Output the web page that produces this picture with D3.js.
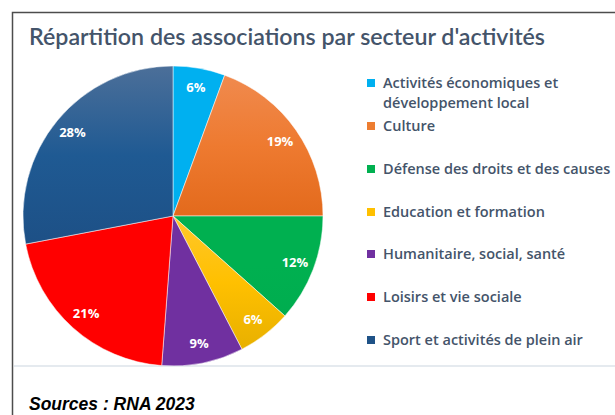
<!DOCTYPE html>
<html><head><meta charset="utf-8">
<script src="https://cdn.jsdelivr.net/npm/d3@7"></script>
<style>body{margin:0;background:#fff}svg{display:block}</style>
</head><body>
<svg id="c" width="615" height="415"></svg>
<script>
const categories = ["Activités économiques et développement local","Culture","Défense des droits et des causes","Education et formation","Humanitaire, social, santé","Loisirs et vie sociale","Sport et activités de plein air"];
const legendLines = [["Activités économiques et","développement local"],["Culture"],["Défense des droits et des causes"],["Education et formation"],["Humanitaire, social, santé"],["Loisirs et vie sociale"],["Sport et activités de plein air"]];
const values = [5.6, 19.4, 11.6, 5.8, 8.8, 20.8, 28.0];
const labels = ["6%","19%","12%","6%","9%","21%","28%"];
const colorsTop = ["#00b0f0","#f08a4e","#00b050","#ffc72c","#7030a0","#ff0000","#4c6f99"];
const colorsMid = ["#00b0f0","#ee7a30","#00b050","#ffc000","#7030a0","#ff0000","#1f5a93"];
const colorsBot = ["#00b0f0","#e36a1c","#00ad4f","#e8b000","#7030a0","#ff0000","#1d5086"];
const legendColors = ["#00b0f0","#ed7d31","#00b050","#ffc000","#7030a0","#ff0000","#1f5287"];

const svg = d3.select("#c");
const cx = 173, cy = 216, R = 150;

// frame
svg.append("rect").attr("x",12.5).attr("y",12.5).attr("width",700).attr("height",500)
  .attr("fill","#fff").attr("stroke","#4d4d4d").attr("stroke-width",1.5);
svg.append("line").attr("x1",14).attr("x2",615).attr("y1",366).attr("y2",366)
  .attr("stroke","#dde3ea").attr("stroke-width",1.5);

svg.append("text").attr("x",29).attr("y",45)
  .attr("font-family","Lato, 'Open Sans', sans-serif").attr("font-weight",600).attr("font-size",22)
  .attr("fill","#44546a").attr("textLength",516).attr("lengthAdjust","spacingAndGlyphs")
  .text("Répartition des associations par secteur d'activités");

const defs = svg.append("defs");
colorsTop.forEach((c,i)=>{
  const g = defs.append("linearGradient").attr("id","g"+i)
    .attr("x1",0).attr("y1",0).attr("x2",0).attr("y2",1);
  g.append("stop").attr("offset","0%").attr("stop-color",c);
  g.append("stop").attr("offset","50%").attr("stop-color",colorsMid[i]);
  g.append("stop").attr("offset","100%").attr("stop-color",colorsBot[i]);
});

const pie = d3.pie().sort(null).value(d=>d)(values);
const arc = d3.arc().innerRadius(0).outerRadius(R);
const labelArc = d3.arc().innerRadius(R*0.87).outerRadius(R*0.87);

const g = svg.append("g").attr("transform",`translate(${cx},${cy})`);
g.selectAll("path").data(pie).join("path")
  .attr("d",arc).attr("fill",(d,i)=>`url(#g${i})`)
  .attr("stroke","#fff").attr("stroke-width",0.5);
g.selectAll("text").data(pie).join("text")
  .attr("transform",d=>`translate(${labelArc.centroid(d)})`)
  .attr("text-anchor","middle").attr("dy","0.35em")
  .attr("font-family","'Open Sans', sans-serif").attr("font-weight",700).attr("font-size",13)
  .attr("fill","#fff").text((d,i)=>labels[i]);

// legend
const rowsY = [83,126,169,212,254,297,340];
const lg = svg.append("g");
legendLines.forEach((lines,i)=>{
  lg.append("rect").attr("x",367).attr("y",rowsY[i]-4).attr("width",8).attr("height",8).attr("fill",legendColors[i]);
  lines.forEach((ln,j)=>{
    lg.append("text").attr("x",383).attr("y",rowsY[i]+5+j*20)
      .attr("font-family","'Open Sans', sans-serif").attr("font-weight",600).attr("font-size",14.5)
      .attr("fill","#44546a").text(ln);
  });
});

svg.append("text").attr("x",29).attr("y",410)
  .attr("font-family","'Liberation Sans', Arial, sans-serif").attr("font-weight",700).attr("font-style","italic")
  .attr("font-size",17.5).attr("fill","#000").text("Sources : RNA 2023");
</script>
</body></html>
